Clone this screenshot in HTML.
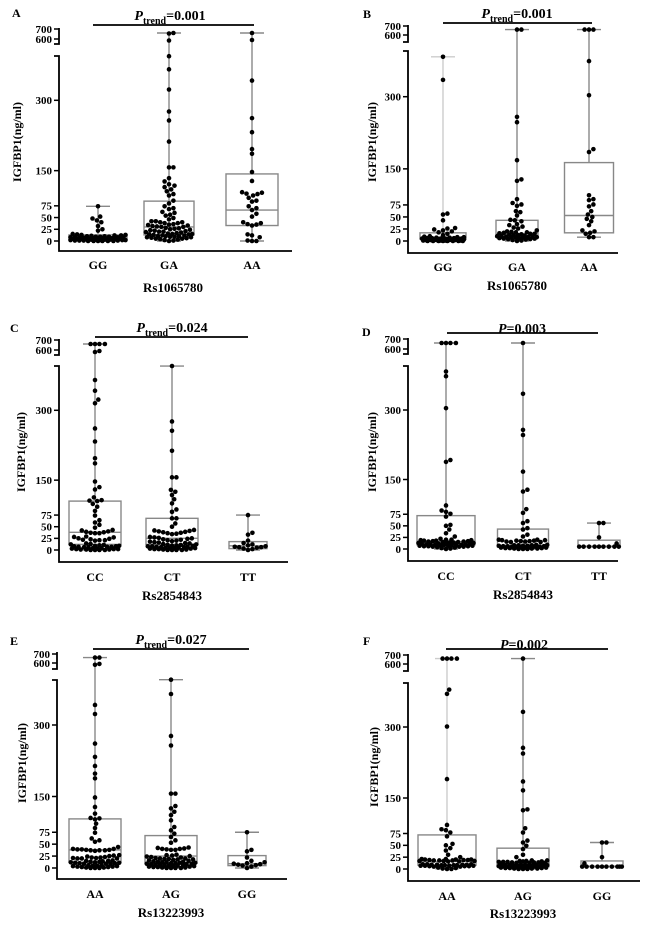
<!DOCTYPE html>
<html><head><meta charset="utf-8"><style>
body{margin:0;background:#fff;}
svg{display:block;font-family:"Liberation Serif",serif;font-weight:bold;}
</style></head><body>
<svg id="fig" width="650" height="928" viewBox="0 0 650 928"></svg>
<script>
// ---- Panel A data ----
const categoriesA = ['GG','GA','AA'];
const valuesA_GG = [74,52,48,44,40,32,25,22,15,14,13,13,12,12,11,10,10,9,9,9,8,8,8,7,7,7,6,6,6,6,5,5,5,5,4,4,4,4,3,3,3,3,2,2,2,2,1,1,1,1,0,0,0,0,0,0];
const valuesA_GA = [660,655,585,394,366,323,276,257,212,157,157,134,127,121,118,115,110,106,100,97,86,80,74,70,68,62,60,56,54,49,46,42,42,40,40,38,38,36,35,34,33,32,31,30,30,28,27,26,25,24,23,22,21,20,20,19,18,17,16,15,15,14,14,13,12,12,11,10,10,9,9,8,8,7,6,5,5,4,3,2,1,0];
const valuesA_AA = [660,590,342,262,232,196,186,147,128,104,103,101,100,97,92,86,84,74,70,66,58,52,40,38,36,35,33,14,12,8,1,0,0];
const boxA = [[0,3,7,13,74],[0,13,30,85,660],[0,33,66,143,660]];
// ---- Panel B data ----
const categoriesB = ['GG','GA','AA'];
const valuesB_GG = [383,335,57,55,43,27,26,24,22,20,18,15,12,10,9,8,8,7,7,6,6,6,5,5,5,5,4,4,4,4,3,3,3,3,3,2,2,2,2,2,1,1,1,1,0,0,0,0,0,0,0,0];
const valuesB_GA = [660,660,258,247,168,128,125,87,79,76,73,62,60,53,44,43,41,35,33,30,28,26,22,20,19,18,18,17,16,15,15,14,13,12,12,11,10,10,9,9,8,8,8,7,7,6,6,5,5,4,4,3,2,1,0];
const valuesB_AA = [660,660,660,374,303,191,185,95,87,85,76,72,62,55,50,46,41,33,22,20,17,15,8,8];
const boxB = [[0,4,8,17,383],[0,8,15,43,660],[8,17,53,163,660]];
// ---- Panel C data ----
const categoriesC = ['CC','CT','TT'];
const valuesC_CC = [660,660,660,660,590,580,365,342,323,315,261,233,197,186,147,135,130,113,107,106,105,99,93,84,74,64,59,54,48,43,42,40,39,38,37,36,36,29,28,27,25,24,23,22,21,21,20,14,13,12,11,10,9,9,8,8,7,7,7,6,6,4,4,3,3,2,2,2,1,1,1,0,0,0,0];
const valuesC_CT = [395,276,256,213,156,156,129,125,118,109,100,87,82,68,68,57,50,43,42,41,40,39,38,37,36,35,34,28,27,26,25,24,23,22,21,20,19,18,17,16,15,14,13,12,11,11,10,9,9,8,8,7,7,6,6,5,5,5,4,4,3,3,2,2,1,1,0,0,0,0];
const valuesC_TT = [75,37,33,20,15,12,10,8,7,6,6,5,3,2,0];
const boxC = [[0,12,38,105,660],[0,12,25,68,395],[0,3,9,18,75]];
// ---- Panel D data ----
const categoriesD = ['CC','CT','TT'];
const valuesD_CC = [660,660,660,660,383,373,304,192,188,94,83,80,76,70,52,50,42,34,27,22,20,20,19,19,18,18,17,17,16,16,15,15,14,14,13,13,12,12,11,11,10,10,10,9,9,9,8,8,8,7,7,7,6,6,6,5,5,5,4,3,2,1,0];
const valuesD_CT = [660,335,257,246,167,128,124,86,78,60,56,45,42,31,27,20,20,19,19,18,18,17,17,16,16,15,15,9,9,8,8,8,7,7,7,6,6,6,5,5,5,4,4,4,3,3,3,2,2,2,1,1,1,0,0,0];
const valuesD_TT = [56,56,25,12,5,5,5,5,5,5,5,5,5];
const boxD = [[0,9,16,72,660],[0,4,8,43,660],[5,5,6,19,56]];
// ---- Panel E data ----
const categoriesE = ['AA','AG','GG'];
const valuesE_AA = [660,660,590,580,342,323,261,233,214,198,188,148,128,114,105,104,102,93,84,74,62,58,55,44,40,40,39,39,38,38,37,37,37,36,27,26,25,24,23,22,22,21,21,20,20,20,16,15,15,14,13,13,12,12,11,11,10,10,9,9,9,6,6,5,5,4,4,3,3,2,2,1,1,0,0,0];
const valuesE_AG = [395,365,277,257,156,156,130,125,118,111,100,86,79,72,65,58,53,43,42,41,40,40,39,38,38,28,27,26,25,24,23,22,21,20,20,19,19,18,18,17,16,15,14,13,13,12,12,11,11,10,10,9,9,8,8,7,7,6,6,5,5,4,4,3,3,2,2,1,1,0,0,0,0];
const valuesE_GG = [75,38,35,22,15,12,10,9,8,7,6,5,3,0];
const boxE = [[0,12,38,103,660],[0,10,25,68,395],[0,5,9,26,75]];
// ---- Panel F data ----
const categoriesF = ['AA','AG','GG'];
const valuesF_AA = [660,660,660,660,379,370,301,190,93,84,82,77,69,53,50,44,39,30,25,21,21,20,20,20,19,19,19,18,18,18,17,17,17,16,16,10,10,10,9,9,9,9,8,8,8,8,7,7,7,7,6,6,6,5,5,3,2,1,0,0];
const valuesF_AG = [660,332,256,244,185,166,126,124,86,77,60,56,49,42,30,25,18,18,17,17,16,16,15,15,15,14,14,14,13,13,13,9,9,9,9,8,8,8,8,7,7,7,7,6,6,6,6,5,5,5,5,4,4,4,3,3,3,2,2,2,1,1,1,0,0,0];
const valuesF_GG = [56,56,25,12,5,5,5,5,5,5,5,5,5,5];
const boxF = [[0,8,16,72,660],[0,5,9,44,660],[5,5,6,17,56]];

const NS='http://www.w3.org/2000/svg';
const svg=document.getElementById('fig');
function mk(tag,attrs,parent){const e=document.createElementNS(NS,tag);for(const k in attrs)e.setAttribute(k,attrs[k]);(parent||svg).appendChild(e);return e;}

const panels=[
 {id:'a',L:'A',cats:categoriesA,vals:[valuesA_GG,valuesA_GA,valuesA_AA],box:boxA,ax:59,y0:241,k:0.469,lowTop:56,y600:39,y700:29,segTop:28,segBot:44,xAxY:251,xEnd:292,cx:[98,169,252],bw:[58,50,52],wc:['#888','#888','#888'],labY:269,titleY:292,titleX:173,pX:170,pY:20,lineY:25,lx1:93,lx2:254,lettX:12,lettY:17,ytX:17,ytY:142,title:'Rs1065780',trend:true,p:'0.001'},
 {id:'b',L:'B',cats:categoriesB,vals:[valuesB_GG,valuesB_GA,valuesB_AA],box:boxB,ax:408,y0:241,k:0.481,lowTop:51,y600:35,y700:26,segTop:25,segBot:42,xAxY:253,xEnd:618,cx:[443,517,589],bw:[46,42,49],wc:['#ccc','#888','#888'],labY:271,titleY:290,titleX:517,pX:517,pY:18,lineY:23,lx1:443,lx2:592,lettX:363,lettY:18,ytX:372,ytY:142,title:'Rs1065780',trend:true,p:'0.001'},
 {id:'c',L:'C',cats:categoriesC,vals:[valuesC_CC,valuesC_CT,valuesC_TT],box:boxC,ax:59,y0:550,k:0.4657,lowTop:366,y600:350,y700:340,segTop:339,segBot:355,xAxY:562,xEnd:288,cx:[95,172,248],bw:[52,52,38],wc:['#888','#888','#888'],labY:581,titleY:600,titleX:172,pX:172,pY:332,lineY:337,lx1:95,lx2:248,lettX:10,lettY:332,ytX:21,ytY:452,title:'Rs2854843',trend:true,p:'0.024'},
 {id:'d',L:'D',cats:categoriesD,vals:[valuesD_CC,valuesD_CT,valuesD_TT],box:boxD,ax:408,y0:549,k:0.4633,lowTop:366,y600:349,y700:339,segTop:338,segBot:354,xAxY:561,xEnd:618,cx:[446,523,599],bw:[58,51,42],wc:['#888','#888','#888'],labY:580,titleY:599,titleX:523,pX:522,pY:333,lineY:333,lx1:447,lx2:598,lettX:362,lettY:336,ytX:372,ytY:452,title:'Rs2854843',trend:false,p:'0.003'},
 {id:'e',L:'E',cats:categoriesE,vals:[valuesE_AA,valuesE_AG,valuesE_GG],box:boxE,ax:57,y0:868,k:0.4767,lowTop:680,y600:663,y700:654,segTop:652,segBot:669,xAxY:879,xEnd:287,cx:[95,171,247],bw:[52,52,38],wc:['#888','#888','#888'],labY:898,titleY:917,titleX:171,pX:171,pY:644,lineY:649,lx1:93,lx2:249,lettX:10,lettY:645,ytX:22,ytY:763,title:'Rs13223993',trend:true,p:'0.027'},
 {id:'f',L:'F',cats:categoriesF,vals:[valuesF_AA,valuesF_AG,valuesF_GG],box:boxF,ax:408,y0:869,k:0.4733,lowTop:683,y600:664,y700:655,segTop:654,segBot:671,xAxY:881,xEnd:640,cx:[447,523,602],bw:[58,52,42],wc:['#ccc','#888','#888'],labY:900,titleY:918,titleX:523,pX:524,pY:649,lineY:649,lx1:446,lx2:608,lettX:363,lettY:645,ytX:374,ytY:767,title:'Rs13223993',trend:false,p:'0.002'}
];

function Y(p,v){return v<=450? p.y0-v*p.k : p.y600-(v-600)*(p.y600-p.y700)/100;}

panels.forEach(p=>{
 const g=mk('g',{});
 
 
 const lt=mk('text',{x:p.lettX,y:p.lettY,'font-size':12},g);lt.textContent=p.L;
 
 
 const ya=mk('path',{d:`M${p.ax-5} ${p.lowTop}H${p.ax}V${p.xAxY}H${p.xEnd}`,fill:'none',stroke:'#000','stroke-width':1.8},g);
 
 
 const ua=mk('path',{d:`M${p.ax} ${p.segTop}V${p.segBot}H${p.ax-5}`,fill:'none',stroke:'#000','stroke-width':1.8},g);
 
 
 [0,25,50,75,150,300,600,700].forEach(t=>{
  const y=Y(p,t);
  mk('line',{x1:p.ax-5,x2:p.ax,y1:y,y2:y,stroke:'#000','stroke-width':1.5},g);
  const tx=mk('text',{x:p.ax-7,y:y+3.8,'font-size':11,'text-anchor':'end'},g);tx.textContent=t;
  
  
 });
 const yt=mk('text',{x:0,y:0,'font-size':12,'text-anchor':'middle',transform:`translate(${p.ytX+4},${p.ytY}) rotate(-90)`},g);yt.textContent='IGFBP1(ng/ml)';
 
 
 const xt=mk('text',{x:p.titleX,y:p.titleY,'font-size':13,'text-anchor':'middle'},g);xt.textContent=p.title;
 
 
 const pl=mk('line',{x1:p.lx1,x2:p.lx2,y1:p.lineY,y2:p.lineY,stroke:'#000','stroke-width':1.8},g);
 
 
 const pt=mk('text',{x:p.pX,y:p.pY,'font-size':14,'text-anchor':'middle'},g);
 
 
 const ti=mk('tspan',{'font-style':'italic'},pt);ti.textContent='P';
 if(p.trend){const s=mk('tspan',{'font-size':10,dy:4},pt);s.textContent='trend';const r=mk('tspan',{dy:-4},pt);r.textContent='='+p.p;}
 else{const r=mk('tspan',{},pt);r.textContent='='+p.p;}
 p.cats.forEach((c,i)=>{
  const cx=p.cx[i],bw=p.bw[i],b=p.box[i],col=p.wc[i];
  const gl=mk('text',{x:cx,y:p.labY,'font-size':12,'text-anchor':'middle'},g);gl.textContent=c;
  
  
  const bg=mk('g',{},g);
  
  
  mk('line',{x1:cx,x2:cx,y1:Y(p,b[4]),y2:Y(p,b[3]),stroke:col,'stroke-width':1.4},bg);
  mk('line',{x1:cx,x2:cx,y1:Y(p,b[1]),y2:Y(p,b[0]),stroke:col,'stroke-width':1.4},bg);
  mk('line',{x1:cx-12,x2:cx+12,y1:Y(p,b[4]),y2:Y(p,b[4]),stroke:col,'stroke-width':1.4},bg);
  mk('line',{x1:cx-12,x2:cx+12,y1:Y(p,b[0]),y2:Y(p,b[0]),stroke:col,'stroke-width':1.4},bg);
  mk('rect',{x:cx-bw/2,y:Y(p,b[3]),width:bw,height:Y(p,b[1])-Y(p,b[3]),fill:'none',stroke:'#888','stroke-width':1.4},bg);
  mk('line',{x1:cx-bw/2,x2:cx+bw/2,y1:Y(p,b[2]),y2:Y(p,b[2]),stroke:'#888','stroke-width':1.4},bg);
  const vs=p.vals[i].slice().sort((a,b)=>a-b);
  const placed=[];const d=4.4,step=1.1,maxW=bw/2-1;
  const offs=[0];for(let s=step;s<=maxW;s+=step){offs.push(s,-s);}
  vs.forEach(v=>{
   const y=Y(p,v);let best=0,bestD=-1;
   for(const o of offs){let md=1e9;for(const q of placed){const dd=Math.hypot(q[0]-o,q[1]-y);if(dd<md)md=dd;}
    if(md>=d){best=o;bestD=md;break;} if(md>bestD){bestD=md;best=o;}}
   placed.push([best,y]);
   const dot=mk('circle',{cx:cx+best,cy:y,r:2.3,fill:'#000'},bg);
   
   
  });
 });
});
</script>
</body></html>
